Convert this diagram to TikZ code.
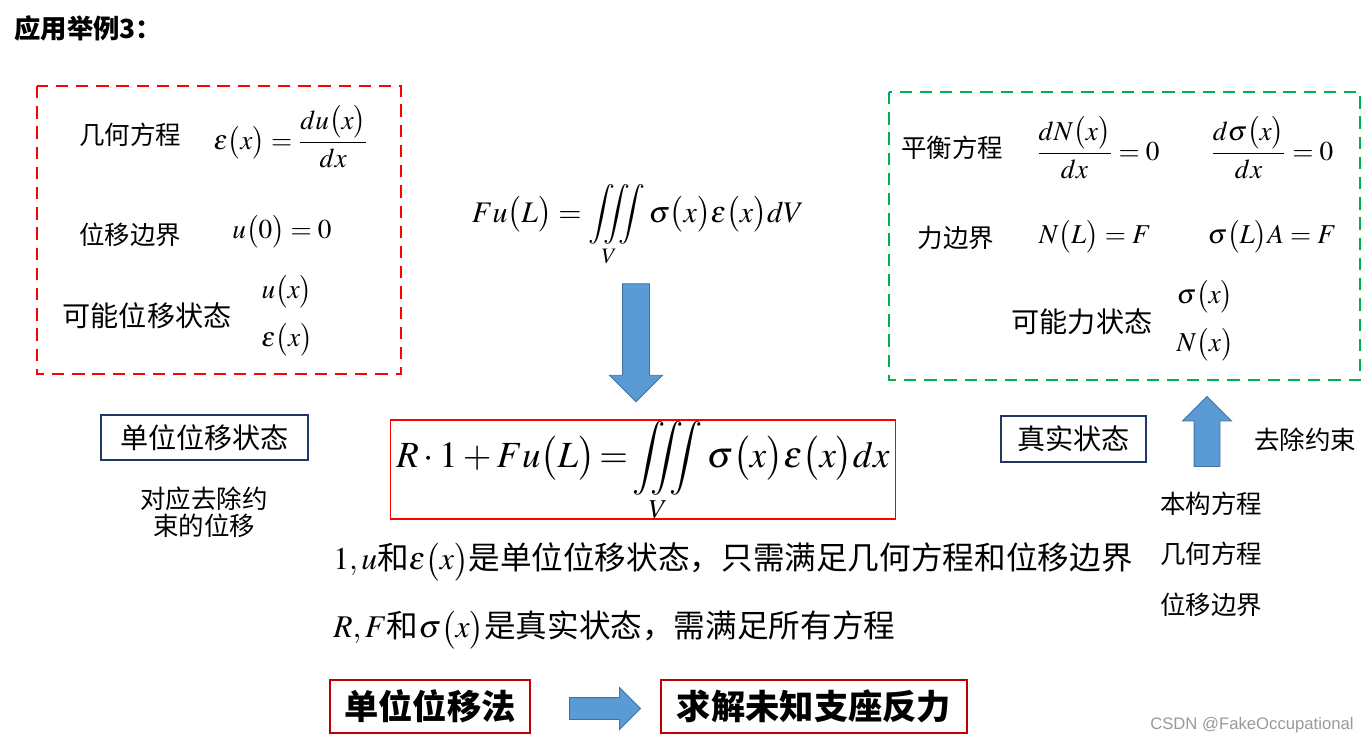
\documentclass[tikz,border=0pt]{standalone}
\usepackage{amsmath}
\usepackage{mathptmx}
\usepackage[no-math]{fontspec}
\setmainfont{Noto Sans CJK SC}
\setsansfont{Liberation Sans}
\usetikzlibrary{shapes.arrows}
\definecolor{setaazul}{HTML}{5B9BD5}
\definecolor{setaborda}{HTML}{41719C}
\definecolor{azulesc}{HTML}{1F3864}
\definecolor{verde}{HTML}{00B050}
\definecolor{vermelho}{HTML}{FF0000}
\definecolor{vermesc}{HTML}{C00000}

\begin{document}
\begin{tikzpicture}[x=0.02cm, y=-0.02cm, font=\fontsize{14.5}{17}\selectfont,
  tx/.style={inner sep=0pt},
  eq/.style={inner sep=0pt, font=\fontsize{15.5}{18}\selectfont},
  moldura/.style={line width=1.6pt, dash pattern=on 7pt off 4.5pt},
  estado/.style={draw=azulesc, line width=0.7pt, inner sep=0pt,
        font=\fontsize{16}{19}\selectfont},
  metodo/.style={draw=vermesc, line width=0.7pt, inner sep=0pt, minimum height=1.06cm,
        font=\fontsize{19.5}{22}\selectfont\bfseries},
  seta/.style={single arrow, draw=setaborda, fill=setaazul, line width=0.5pt,
        single arrow head indent=0pt},
]
  \useasboundingbox (0,0) rectangle (1368,745);
  \node[tx, anchor=west, font=\fontsize{15}{18}\selectfont\bfseries] (titulo) at (14,28) {应用举例3：};

  \draw[moldura, draw=vermelho] (37,86) rectangle (401,374);
  \node[tx] (geo) at (130,135) {几何方程};
  \node[eq] (geoeq) at (291,137) {$\varepsilon\bigl(x\bigr)=\dfrac{du\bigl(x\bigr)}{dx}$};
  \node[tx] (bd) at (130,235) {位移边界};
  \node[eq] (bdeq) at (282,232) {$u\bigl(0\bigr)=0$};
  \node[tx, font=\fontsize{16}{19}\selectfont] (possdes) at (147,316) {可能位移状态};
  \node[eq] (ux) at (287,292) {$u\bigl(x\bigr)$};
  \node[eq] (ex) at (287,340) {$\varepsilon\bigl(x\bigr)$};

  \draw[moldura, draw=verde] (889,92) rectangle (1360,380);
  \node[tx] (equil) at (952,148) {平衡方程};
  \node[eq] (equil1) at (1098,148) {$\dfrac{dN\bigl(x\bigr)}{dx}=0$};
  \node[eq] (equil2) at (1272,148) {$\dfrac{d\sigma\bigl(x\bigr)}{dx}=0$};
  \node[tx] (forca) at (956,238) {力边界};
  \node[eq] (forca1) at (1095,237) {$N\bigl(L\bigr)=F$};
  \node[eq] (forca2) at (1272,237) {$\sigma\bigl(L\bigr)A=F$};
  \node[tx, font=\fontsize{16}{19}\selectfont] (possfor) at (1082,322) {可能力状态};
  \node[eq] (sx) at (1205,297) {$\sigma\bigl(x\bigr)$};
  \node[eq] (nx) at (1205,345) {$N\bigl(x\bigr)$};

  \node[eq, font=\fontsize{17}{20}\selectfont] (trab) at (638,226)
    {$Fu\bigl(L\bigr)=\displaystyle\iiint\limits_V\sigma\bigl(x\bigr)\varepsilon\bigl(x\bigr)dV$};
  \node[seta, shape border rotate=270, minimum height=2.36cm, inner sep=0.26cm,
        single arrow head extend=0.26cm] (desce) at (636,336) {};

  \node[draw=vermelho, line width=0.6pt, minimum width=10.12cm, minimum height=1.98cm,
        inner sep=0pt] (central) at (643,469.5) {};
  \node[eq, font=\fontsize{21}{24}\selectfont] (centraleq) at (643,472)
    {$R\cdot1+Fu\bigl(L\bigr)\!=\!\displaystyle\iiint\limits_V\sigma\bigl(x\bigr)\varepsilon\bigl(x\bigr)dx$};

  \node[estado, minimum width=4.14cm, minimum height=0.9cm] (unit) at (204.5,437.5) {单位位移状态};
  \node[tx, align=center, font=\fontsize{14.5}{15.5}\selectfont] (unitnota) at (204,512) {对应去除约\\束的位移};

  \node[estado, minimum width=2.9cm, minimum height=0.92cm] (real) at (1073.5,439) {真实状态};
  \node[seta, shape border rotate=90, minimum height=1.4cm, inner sep=0.25cm,
        single arrow head extend=0.23cm] (sobe) at (1207,438) {};
  \node[tx] (remove) at (1305,440) {去除约束};
  \node[tx] (const) at (1211,504) {本构方程};
  \node[tx] (geo2) at (1211,554) {几何方程};
  \node[tx] (bd2) at (1211,605) {位移边界};

  \node[tx, anchor=west, font=\fontsize{18}{21}\selectfont] (linha1) at (333,562)
    {$1,u$和$\varepsilon\bigl(x\bigr)$是单位位移状态，只需满足几何方程和位移边界};
  \node[tx, anchor=west, font=\fontsize{18}{21}\selectfont] (linha2) at (333,630)
    {$R,F$和$\sigma\bigl(x\bigr)$是真实状态，需满足所有方程};

  \node[metodo, minimum width=4cm] (metodo) at (430,706.5) {单位位移法};
  \node[metodo, minimum width=6.12cm] (reacao) at (814,706.5) {求解未知支座反力};
  \node[seta, minimum height=1.42cm, inner sep=0.21cm, single arrow head extend=0.2cm] (vai) at (599.5,708.5) {};

  \node[tx, anchor=east, text=black!40, font=\sffamily\fontsize{9.5}{11}\selectfont] (marca) at (1354,725) {CSDN @FakeOccupational};
\end{tikzpicture}
\end{document}
